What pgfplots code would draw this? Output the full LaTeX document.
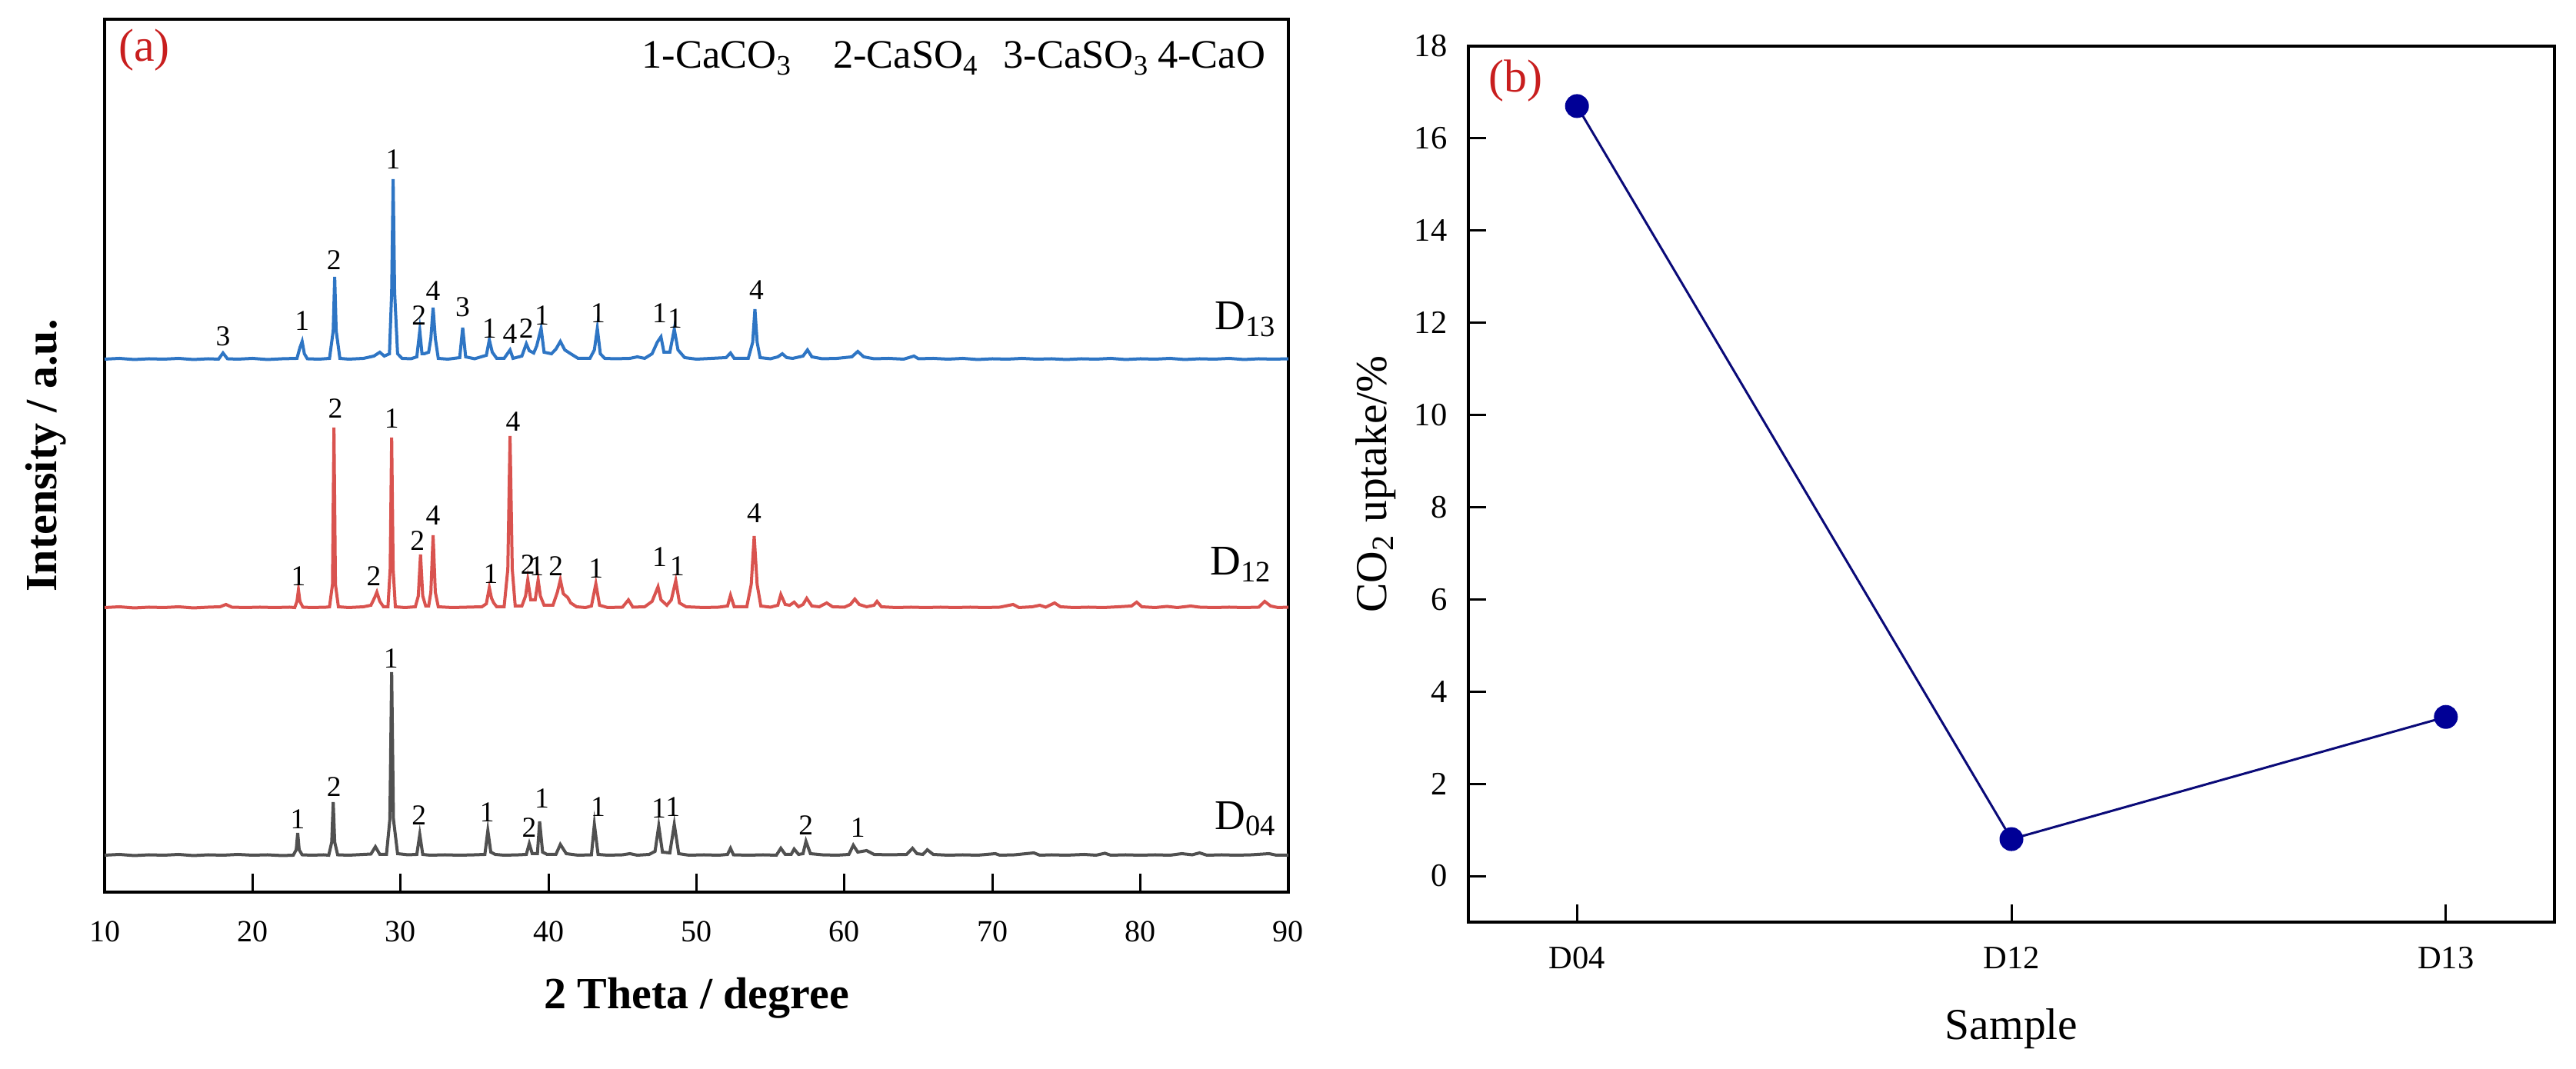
\documentclass[border=0pt]{standalone}
\usepackage{fontspec}
\setmainfont{Liberation Serif}
\usepackage{pgfplots}
\pgfplotsset{compat=1.18}
\definecolor{cblue}{RGB}{46,117,196}
\definecolor{cred}{RGB}{217,83,79}
\definecolor{cgrey}{RGB}{80,80,80}
\definecolor{navy}{RGB}{10,10,120}
\definecolor{mk}{RGB}{0,0,150}
\definecolor{lab}{RGB}{200,30,30}
\tikzset{pk/.style={font=\fontsize{7.5}{8}\selectfont, anchor=south, inner sep=0pt}}
\begin{document}
\begin{tikzpicture}
\useasboundingbox (0,0) rectangle (669.8pt,278pt);
% ---------------- (a) XRD ----------------
\begin{axis}[
  at={(27.2pt,46pt)}, anchor=south west,
  scale only axis, width=307.8pt, height=227pt,
  xmin=10, xmax=90, ymin=0, ymax=1135,
  axis line style={line width=0.9pt},
  xtick={10,20,...,90}, ytick=\empty,
  tick align=inside, xtick pos=lower,
  major tick length=4.8pt,
  every tick/.style={black, line width=0.6pt},
  tick label style={font=\fontsize{8}{9}\selectfont},
  /pgf/number format/assume math mode=true,
  xticklabel style={yshift=-4pt},
  xlabel={2 Theta / degree},
  ylabel={Intensity / a.u.},
  xlabel style={at={(axis description cs:0.5,0)}, anchor=base, yshift=-30.4pt, font=\bfseries\fontsize{11.6}{13}\selectfont},
  ylabel style={at={(axis description cs:-0.0409,0.5)}, anchor=base, rotate=0, font=\bfseries\fontsize{11.6}{13}\selectfont},
  clip=false,
]
% D04
\addplot[cgrey, line width=0.8pt] coordinates {
(10,48) (11,49) (12,47.5) (13,48.5) (14,48) (15,49) (16,47.5) (17,48.5) (18,48) (19,49) (20,48) (21,48.5) (22,47.5) (22.75,48)
(22.95,55) (23.05,77) (23.15,55) (23.35,48.5) (24,48) (24.8,48.5)
(25.15,48) (25.35,65) (25.45,117) (25.55,65) (25.75,48.5)
(26.5,48) (27.5,49) (28,49.5) (28.3,59) (28.6,49)
(29.05,49) (29.28,95) (29.4,286) (29.52,95) (29.8,50)
(30.5,48.5) (31.1,49) (31.3,75) (31.5,49)
(32,48) (33,48.5) (34,48) (35,48.5) (35.7,49) (35.9,80) (36.1,52) (36.4,49)
(37,48) (38,48.5) (38.5,49) (38.7,63) (38.9,50) (39.25,50) (39.4,92) (39.6,52) (39.9,49)
(40.5,49) (40.8,62) (41.2,50) (42,48) (42.9,48.5) (43.1,88) (43.35,49) (44,48) (45,48.5) (45.5,50) (46,48)
(46.8,49) (47.2,53) (47.45,86) (47.7,52) (48.2,51) (48.5,88) (48.8,50) (49.5,48) (50.5,48.5) (51.5,48)
(52.1,49) (52.3,57) (52.5,48.5) (53.5,48) (54.5,48.5) (55.4,48) (55.7,57) (56,49) (56.4,49) (56.6,56) (56.9,49)
(57.2,50) (57.4,66) (57.7,50) (58.5,48.5) (59.5,48) (60.3,49) (60.6,61) (60.9,52) (61.5,54) (62,49) (63,48.5)
(64.2,49) (64.6,57) (64.9,50) (65.3,49) (65.6,55) (66,49) (67,48) (68,48.5) (69,48) (70.2,50) (70.5,48) (71.5,48.5)
(72.8,51) (73.2,48) (74,48.5) (75,48) (76.2,49) (77,48) (77.6,50.5) (78,48) (79,48.5) (80,48) (81,48.5) (82,48)
(82.8,50) (83.5,48.5) (84,51) (84.5,48) (85.5,48.5) (86.5,48) (87.5,48.5) (88.7,50) (89.2,48) (90,48)
};
% D12
\addplot[cred, line width=0.8pt] coordinates {
(10,370) (11,371) (12,369.5) (13,370.5) (14,370) (15,371) (16,369.5) (17,370.5) (17.8,371) (18.2,374) (18.6,370.5)
(19.5,370) (20.5,370.5) (21.5,370) (22.5,370.5) (22.85,370) (23.0,378) (23.1,393) (23.2,378) (23.4,370.5)
(24,370) (25,370.5) (25.2,371) (25.4,400) (25.5,604) (25.6,400) (25.8,371)
(26.5,370) (27.5,371) (28,373) (28.25,383) (28.4,390) (28.6,378) (28.85,371)
(29.15,371) (29.3,420) (29.4,591) (29.5,420) (29.65,371)
(30.3,370) (31.0,371) (31.2,385) (31.35,439) (31.5,385) (31.7,372)
(31.9,372) (32.05,390) (32.2,464) (32.35,390) (32.55,371)
(33.5,370) (34.5,370.5) (35.5,371) (35.8,375) (36.0,396) (36.15,382) (36.3,376) (36.5,371)
(37.0,371) (37.25,420) (37.4,593) (37.55,420) (37.75,372)
(38.2,372) (38.45,385) (38.6,406) (38.8,380) (39.1,380) (39.3,406) (39.45,385) (39.7,373)
(40.3,373) (40.6,390) (40.8,406) (41.0,388) (41.3,383) (41.5,376) (41.9,371)
(42.5,370) (42.9,372) (43.2,401) (43.45,373) (44,370) (45,370.5) (45.4,380) (45.7,370.5) (46.5,371)
(47.0,378) (47.4,397) (47.6,380) (48,373) (48.3,380) (48.6,405) (48.85,376) (49.3,371) (50.5,370) (51.5,370.5)
(52.1,372) (52.3,386) (52.55,371) (53.4,371) (53.7,400) (53.9,463) (54.1,400) (54.35,372) (55,370.5)
(55.5,373) (55.7,387) (56,374) (56.3,373) (56.6,377) (56.9,371) (57.2,374) (57.45,382) (57.8,372) (58.3,371)
(58.8,376) (59.2,371) (60,370.5) (60.4,374) (60.7,381) (61,374) (61.5,371) (62,373) (62.2,378) (62.5,371)
(63.5,370) (64.5,370.5) (65.5,370) (66.5,370.5) (67.5,370) (68.5,370.5) (69.5,370) (70.5,370.5) (71.4,374) (71.8,370)
(72.7,371) (73.2,373) (73.6,370.5) (74.2,376) (74.6,371) (75.5,370) (76.5,370.5) (77.5,370) (78.5,371) (79.4,372)
(79.75,377) (80.1,371) (81,370) (81.8,371.5) (82.5,370) (83.4,372) (84,370.5) (85,370) (86,370.5) (87,370)
(88,370.5) (88.4,378) (88.8,372) (89.3,370) (90,370.5)
};
% D13
\addplot[cblue, line width=0.8pt] coordinates {
(10,693) (11,694) (12,692.5) (13,693.5) (14,693) (15,694) (16,692.5) (17,693.5) (17.7,693) (18.0,701) (18.3,693.5)
(19,693) (20,694) (21,692.5) (22,693.5) (23.0,694) (23.2,708) (23.35,716) (23.5,700) (23.7,693.5)
(24.5,693) (25.2,694) (25.45,730) (25.55,800) (25.65,730) (25.9,694)
(26.5,693) (27.5,694) (28.2,697) (28.6,702) (28.9,697) (29.25,700) (29.4,780) (29.5,927) (29.6,780) (29.8,700) (30.1,694)
(30.7,693.5) (31.1,696) (31.3,730) (31.45,700) (31.6,700) (31.9,702) (32.05,720) (32.2,760) (32.35,720) (32.55,694)
(33.2,693) (34.0,695) (34.2,734) (34.4,696) (35,693.5) (35.8,698) (36.0,718) (36.2,702) (36.5,694) (37.0,694)
(37.4,705) (37.6,694) (38.2,697) (38.5,713) (38.7,704) (39.0,701) (39.2,710) (39.5,733) (39.7,702) (40.2,700)
(40.5,706) (40.8,716) (41.1,705) (41.5,700) (42,694) (42.8,694) (43.1,705) (43.3,733) (43.5,700) (43.8,694)
(44.5,693.5) (45.5,694) (46,696) (46.5,694) (47.0,700) (47.35,715) (47.6,722) (47.8,702) (48.2,702) (48.5,732)
(48.75,705) (49.2,695) (50,693) (51,694) (52.0,695) (52.3,701) (52.55,694) (53.5,694) (53.8,715) (53.95,758)
(54.1,715) (54.3,695) (55,693.5) (55.5,696) (55.8,700) (56.1,695) (56.5,694) (57.2,697) (57.5,705) (57.8,696)
(58.5,693.5) (59.5,694) (60.5,696) (60.9,703) (61.3,696) (62,693.5) (63,694) (64,693) (64.7,697) (65,693.5)
(66,694) (67,693) (68,694) (69,692.5) (70,693.5) (71,693) (72,694) (73,693) (74,693.5) (75,692.5) (76,693.5)
(77,693) (78,694) (79,692.5) (80,693.5) (81,693) (82,694) (83,692.5) (84,693.5) (85,693) (86,694) (87,692.5)
(88,693.5) (89,693) (90,693.5)
};
% peak labels D13
\node[pk] at (axis cs:18.0,709) {3};
\node[pk] at (axis cs:23.35,729) {1};
\node[pk] at (axis cs:25.5,808) {2};
\node[pk] at (axis cs:29.5,939) {1};
\node[pk] at (axis cs:31.25,736) {2};
\node[pk] at (axis cs:32.2,768) {4};
\node[pk] at (axis cs:34.2,747) {3};
\node[pk] at (axis cs:36.0,719) {1};
\node[pk] at (axis cs:37.4,712) {4};
\node[pk] at (axis cs:38.5,719) {2};
\node[pk] at (axis cs:39.55,736) {1};
\node[pk] at (axis cs:43.35,739) {1};
\node[pk] at (axis cs:47.5,739) {1};
\node[pk] at (axis cs:48.55,732) {1};
\node[pk] at (axis cs:54.05,769) {4};
% peak labels D12
\node[pk] at (axis cs:23.1,397) {1};
\node[pk] at (axis cs:25.6,615) {2};
\node[pk] at (axis cs:28.2,397) {2};
\node[pk] at (axis cs:29.4,602) {1};
\node[pk] at (axis cs:31.15,443) {2};
\node[pk] at (axis cs:32.2,476) {4};
\node[pk] at (axis cs:36.1,400) {1};
\node[pk] at (axis cs:37.6,598) {4};
\node[pk] at (axis cs:38.6,412) {2};
\node[pk] at (axis cs:39.2,410) {1};
\node[pk] at (axis cs:40.5,410) {2};
\node[pk] at (axis cs:43.2,407) {1};
\node[pk] at (axis cs:47.5,422) {1};
\node[pk] at (axis cs:48.7,410) {1};
\node[pk] at (axis cs:53.9,479) {4};
% peak labels D04
\node[pk] at (axis cs:23.05,81.5) {1};
\node[pk] at (axis cs:25.5,123) {2};
\node[pk] at (axis cs:29.35,290) {1};
\node[pk] at (axis cs:31.25,86) {2};
\node[pk] at (axis cs:35.85,90) {1};
\node[pk] at (axis cs:38.7,70.5) {2};
\node[pk] at (axis cs:39.55,108) {1};
\node[pk] at (axis cs:43.35,97) {1};
\node[pk] at (axis cs:47.45,95) {1};
\node[pk] at (axis cs:48.4,97) {1};
\node[pk] at (axis cs:57.4,73) {2};
\node[pk] at (axis cs:60.9,70.5) {1};
% sample names
\node[anchor=base east, inner sep=0pt, font=\fontsize{11}{12}\selectfont] at (axis cs:89.3,731) {D\textsubscript{13}};
\node[anchor=base east, inner sep=0pt, font=\fontsize{11}{12}\selectfont] at (axis cs:89.0,412) {D\textsubscript{12}};
\node[anchor=base east, inner sep=0pt, font=\fontsize{11}{12}\selectfont] at (axis cs:89.3,81.5) {D\textsubscript{04}};
% legend text
\node[anchor=base east, inner sep=0pt, font=\fontsize{10.5}{12}\selectfont] at (axis cs:88.5,1071) {1-CaCO\textsubscript{3}\hspace{1em}2-CaSO\textsubscript{4}\hspace{0.6em}3-CaSO\textsubscript{3}\hspace{0.2em}4-CaO};
\node[anchor=base west, inner sep=0pt, text=lab, font=\fontsize{12}{13}\selectfont] at (axis cs:10.9,1080) {(a)};
\end{axis}
% ---------------- (b) CO2 uptake ----------------
\begin{axis}[
  at={(381.8pt,38.2pt)}, anchor=south west,
  scale only axis, width=282.4pt, height=227.8pt,
  xmin=-0.25, xmax=2.25, ymin=-1, ymax=18,
  xtick={0,1,2}, xticklabels={D04,D12,D13},
  ytick={0,2,...,18},
  tick align=inside, xtick pos=lower, ytick pos=left,
  major tick length=4.6pt,
  axis line style={line width=0.9pt},
  every tick/.style={black, line width=0.6pt},
  tick label style={font=\fontsize{8.5}{10}\selectfont},
  /pgf/number format/assume math mode=true,
  xticklabel style={yshift=-3pt},
  yticklabel style={xshift=-2pt},
  xlabel={Sample},
  ylabel={CO\textsubscript{2} uptake/\%},
  xlabel style={at={(axis description cs:0.5,0)}, anchor=base, yshift=-30.6pt, font=\fontsize{11.5}{13}\selectfont},
  ylabel style={at={(axis description cs:-0.0751,0.5)}, anchor=base, font=\fontsize{11.5}{13}\selectfont},
  clip=false,
]
\addplot[navy, line width=0.6pt, mark=*, mark size=2.8pt, mark options={fill=mk, draw=mk}] coordinates {(0,16.7) (1,0.8) (2,3.45)};
\node[anchor=base west, inner sep=0pt, text=lab, font=\fontsize{12}{13}\selectfont] at (axis cs:-0.204,17.0) {(b)};
\end{axis}
\end{tikzpicture}
\end{document}
